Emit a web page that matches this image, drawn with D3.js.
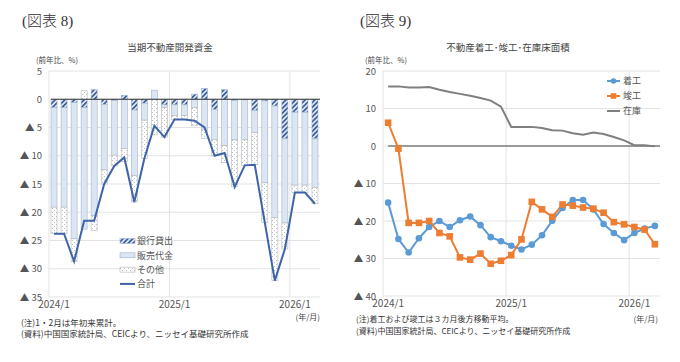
<!DOCTYPE html>
<html>
<head>
<meta charset="utf-8">
<script src="https://cdn.jsdelivr.net/npm/d3@7"></script>
<style>
  body { margin: 0; background: #fff; }
  svg { display: block; font-family: "Noto Sans CJK JP", "Noto Sans", sans-serif; }
</style>
</head>
<body>
<div id="chart"></div>
<script>
// months 2024/1 .. 2026/3
const months = [];
for (let y = 2024; y <= 2026; y++) for (let m = 1; m <= 12; m++) months.push(y + "/" + m);
months.length = 27;

// left: 当期不動産開発資金 (contribution, %)
const bank  = [-1.5,-1.5,-0.6,-1.5,1.7,-0.9,-0.2,0.7,-1.9,-0.7,0,-1.0,-1.0,-1.0,0.9,1.9,-1.8,1.7,-0.2,-0.1,-2.0,-0.3,-1.2,-7.0,-2.3,-2.3,-7.0];
const sales = [-17.6,-17.6,-24.1,-21.5,-20.6,-11.6,-9.7,-8.7,-11.6,-3.0,1.6,-0.5,-1.9,-1.9,-1.5,-5.3,-5.3,-8.2,-7.0,-7.1,-3.9,-14.5,-19.7,-14.9,-12.9,-12.9,-8.6];
const other = [-4.7,-4.7,-4.0,1.5,-2.6,-2.5,-1.9,-2.3,-4.7,-6.8,-6.3,-5.2,-0.7,-0.7,-3.2,-1.6,-2.9,-3.0,-8.3,-4.5,-5.7,-7.0,-11.2,-4.6,-1.3,-1.3,-2.9];
const total = [-23.8,-23.8,-28.7,-21.5,-21.5,-15.0,-11.8,-10.3,-18.2,-10.5,-4.7,-6.7,-3.6,-3.6,-3.8,-5.0,-10.0,-9.5,-15.5,-11.7,-11.6,-21.8,-32.1,-26.5,-16.5,-16.5,-18.5];
const leftTicks = [5,0,-5,-10,-15,-20,-25,-30,-35];

// right: 不動産着工・竣工・在庫床面積
const starts   = [-15.1,-24.8,-28.4,-24.6,-21.6,-20.0,-21.6,-19.8,-18.8,-21.1,-24.3,-25.4,-26.6,-27.6,-26.3,-23.8,-19.9,-16.5,-14.4,-14.4,-16.9,-20.8,-23.2,-25.1,-23.2,-22.0,-21.3];
const complete = [6.2,-0.7,-20.5,-20.5,-20.0,-23.2,-24.1,-29.7,-30.3,-28.7,-31.4,-30.6,-29.1,-24.9,-14.9,-16.9,-18.9,-15.6,-15.9,-16.4,-16.7,-17.8,-20.3,-20.9,-21.6,-22.3,-26.2];
const stock    = [15.9,15.9,15.6,15.6,15.7,15.0,14.4,13.9,13.4,12.8,12.1,10.5,5.1,5.1,5.1,4.8,4.2,4.1,3.4,3.0,3.6,3.2,2.4,1.5,0.2,0.2,-0.1];
const rightTicks = [20,10,0,-10,-20,-30,-40];
const xLabels = ["2024/1","2025/1","2026/1"];

const fmt = v => v < 0 ? "\u25B2 " + (-v) : String(v);

const svg = d3.select("#chart").append("svg").attr("width", 680).attr("height", 362);
const defs = svg.append("defs");

const hatch = defs.append("pattern").attr("id","hatch").attr("patternUnits","userSpaceOnUse")
  .attr("width",3.4).attr("height",3.4).attr("patternTransform","rotate(45)");
hatch.append("rect").attr("width",3.4).attr("height",3.4).attr("fill","#dde6f2");
hatch.append("rect").attr("width",1.7).attr("height",3.4).attr("fill","#3d5f9b");

const dots = defs.append("pattern").attr("id","dots").attr("patternUnits","userSpaceOnUse")
  .attr("width",4).attr("height",4);
dots.append("rect").attr("width",4).attr("height",4).attr("fill","#fff");
dots.append("rect").attr("x",0).attr("y",0).attr("width",1).attr("height",1).attr("fill","#b8c2cf");
dots.append("rect").attr("x",2).attr("y",2).attr("width",1).attr("height",1).attr("fill","#b8c2cf");

const fills = { bank: "url(#hatch)", sales: "#dce6f2", other: "url(#dots)" };
const strokes = { bank: "#9fb3d3", sales: "#9fb3d3", other: "#b5b5b5" };

// ---------- left chart ----------
const L = { left: 49, right: 320, top: 71, bottom: 297 };
const xL = d3.scaleBand().domain(months).range([L.left, L.right]).padding(0);
const yL = d3.scaleLinear().domain([-35, 5]).range([L.bottom, L.top]);

const gL = svg.append("g");
gL.selectAll(".hgrid").data(leftTicks).join("line")
  .attr("x1", L.left).attr("x2", L.right)
  .attr("y1", d => yL(d)).attr("y2", d => yL(d))
  .attr("stroke", "#e3e3e3").attr("stroke-width", 1);
gL.selectAll(".vgrid").data([0,12,24]).join("line")
  .attr("x1", d => L.left + d * xL.step()).attr("x2", d => L.left + d * xL.step())
  .attr("y1", L.top).attr("y2", L.bottom)
  .attr("stroke", "#e3e3e3").attr("stroke-width", 1);

const rows = months.map((m, i) => ({ month: m, bank: bank[i], sales: sales[i], other: other[i] }));
const stack = d3.stack().keys(["bank","sales","other"]).offset(d3.stackOffsetDiverging);
const series = stack(rows);
const bw = xL.bandwidth() * 0.6;

series.forEach(s => {
  gL.append("g").selectAll("rect").data(s).join("rect")
    .attr("x", d => xL(d.data.month) + (xL.bandwidth() - bw) / 2)
    .attr("width", bw)
    .attr("y", d => yL(Math.max(d[0], d[1])))
    .attr("height", d => Math.abs(yL(d[0]) - yL(d[1])))
    .attr("fill", fills[s.key])
    .attr("stroke", strokes[s.key]).attr("stroke-width", 0.6);
});

gL.append("line").attr("x1", L.left + 2).attr("x2", L.right)
  .attr("y1", yL(0)).attr("y2", yL(0)).attr("stroke", "#333").attr("stroke-width", 1.1);

const lineL = d3.line().x((d, i) => xL(months[i]) + xL.bandwidth() / 2).y(d => yL(d));
gL.append("path").datum(total).attr("d", lineL)
  .attr("fill", "none").attr("stroke", "#3d63a8").attr("stroke-width", 2);

gL.selectAll(".ytl").data(leftTicks).join("text")
  .attr("x", 42).attr("y", d => yL(d) + 3.5).attr("text-anchor", "end")
  .attr("font-size", 9.5).attr("fill", "#555").text(fmt);
gL.selectAll(".xtl").data(xLabels).join("text")
  .attr("x", d => xL(d) + xL.bandwidth() / 2).attr("y", 307.5).attr("text-anchor", "middle")
  .attr("font-size", 10).attr("fill", "#555").text(d => d);

// legend left
const legL = [
  { key: "bank", label: "銀行貸出" },
  { key: "sales", label: "販売代金" },
  { key: "other", label: "その他" },
  { key: "line", label: "合計" }
];
legL.forEach((d, i) => {
  const y = 241 + i * 14.3;
  if (d.key === "line") {
    gL.append("line").attr("x1", 120).attr("x2", 135).attr("y1", y).attr("y2", y)
      .attr("stroke", "#3d63a8").attr("stroke-width", 2);
  } else {
    gL.append("rect").attr("x", 120).attr("y", y - 2.5).attr("width", 15).attr("height", 5)
      .attr("fill", fills[d.key]).attr("stroke", strokes[d.key]).attr("stroke-width", 0.6);
  }
  gL.append("text").attr("x", 137).attr("y", y + 3.3).attr("font-size", 9).attr("fill", "#555").text(d.label);
});

// ---------- right chart ----------
const R = { left: 383, right: 660, top: 71, bottom: 296 };
const xR = d3.scaleBand().domain(months).range([R.left, R.right]).padding(0);
const yR = d3.scaleLinear().domain([-40, 20]).range([R.bottom, R.top]);
const cx = i => xR(months[i]) + xR.bandwidth() / 2;

const gR = svg.append("g");
gR.selectAll(".hgrid").data(rightTicks).join("line")
  .attr("x1", R.left).attr("x2", R.right)
  .attr("y1", d => yR(d)).attr("y2", d => yR(d))
  .attr("stroke", "#e3e3e3").attr("stroke-width", 1);
gR.selectAll(".vgrid").data([0,12,24]).join("line")
  .attr("x1", d => R.left + d * xR.step()).attr("x2", d => R.left + d * xR.step())
  .attr("y1", R.top).attr("y2", R.bottom)
  .attr("stroke", "#e3e3e3").attr("stroke-width", 1);
gR.append("line").attr("x1", cx(0)).attr("x2", R.right)
  .attr("y1", yR(0)).attr("y2", yR(0)).attr("stroke", "#444").attr("stroke-width", 1.1);

const lineR = d3.line().x((d, i) => cx(i)).y(d => yR(d));
gR.append("path").datum(stock).attr("d", lineR)
  .attr("fill", "none").attr("stroke", "#7f7f7f").attr("stroke-width", 2);
gR.append("path").datum(starts).attr("d", lineR)
  .attr("fill", "none").attr("stroke", "#5b9bd5").attr("stroke-width", 2);
gR.append("path").datum(complete).attr("d", lineR)
  .attr("fill", "none").attr("stroke", "#ed7d31").attr("stroke-width", 2);
gR.selectAll(".pt1").data(starts).join("circle")
  .attr("cx", (d, i) => cx(i)).attr("cy", d => yR(d)).attr("r", 3.3).attr("fill", "#5b9bd5");
gR.selectAll(".pt2").data(complete).join("rect")
  .attr("x", (d, i) => cx(i) - 3.3).attr("y", d => yR(d) - 3.3)
  .attr("width", 6.6).attr("height", 6.6).attr("fill", "#ed7d31");

gR.selectAll(".ytl").data(rightTicks).join("text")
  .attr("x", 376).attr("y", d => yR(d) + 3.5).attr("text-anchor", "end")
  .attr("font-size", 9.5).attr("fill", "#555").text(fmt);
gR.selectAll(".xtl").data(xLabels).join("text")
  .attr("x", d => xR(d) + xR.bandwidth() / 2).attr("y", 307).attr("text-anchor", "middle")
  .attr("font-size", 10).attr("fill", "#555").text(d => d);

const legR = [
  { label: "着工", color: "#5b9bd5", mark: "circle" },
  { label: "竣工", color: "#ed7d31", mark: "square" },
  { label: "在庫", color: "#7f7f7f", mark: "none" }
];
legR.forEach((d, i) => {
  const y = 81 + i * 15;
  gR.append("line").attr("x1", 607).attr("x2", 620).attr("y1", y).attr("y2", y)
    .attr("stroke", d.color).attr("stroke-width", 2);
  if (d.mark === "circle") gR.append("circle").attr("cx", 613.5).attr("cy", y).attr("r", 2.8).attr("fill", d.color);
  if (d.mark === "square") gR.append("rect").attr("x", 610.7).attr("y", y - 2.8).attr("width", 5.6).attr("height", 5.6).attr("fill", d.color);
  gR.append("text").attr("x", 623).attr("y", y + 3.2).attr("font-size", 9).attr("fill", "#555").text(d.label);
});

// ---------- texts ----------
const txt = (x, y, s, size, anchor, fam, col) => svg.append("text")
  .attr("x", x).attr("y", y).attr("font-size", size).attr("text-anchor", anchor || "start")
  .attr("fill", col || "#444").style("font-family", fam || null).text(s);

const serif = "'Liberation Serif', 'Noto Sans CJK JP', serif";
txt(22, 26, "(図表 8)", 15, "start", serif, "#333").attr("font-weight", 300);
txt(360, 26, "(図表 9)", 15, "start", serif, "#333").attr("font-weight", 300);
txt(170, 51, "当期不動産開発資金", 9.5, "middle");
txt(508, 51, "不動産着工･竣工･在庫床面積", 9.5, "middle");
txt(36, 63, "(前年比、%)", 7.5, "start");
txt(365, 63, "(前年比、%)", 7.5, "start");
txt(320, 320, "(年/月)", 8, "end");
txt(658, 322, "(年/月)", 8, "end");
txt(21, 326, "(注)1・2月は年初来累計。", 8.5, "start", null, "#333");
txt(21, 337, "(資料)中国国家統計局、CEICより、ニッセイ基礎研究所作成", 8.5, "start", null, "#333");
txt(356, 322, "(注)着工および竣工は３カ月後方移動平均。", 8, "start", null, "#333");
txt(356, 334, "(資料)中国国家統計局、CEICより、ニッセイ基礎研究所作成", 8, "start", null, "#333");
</script>
</body>
</html>
